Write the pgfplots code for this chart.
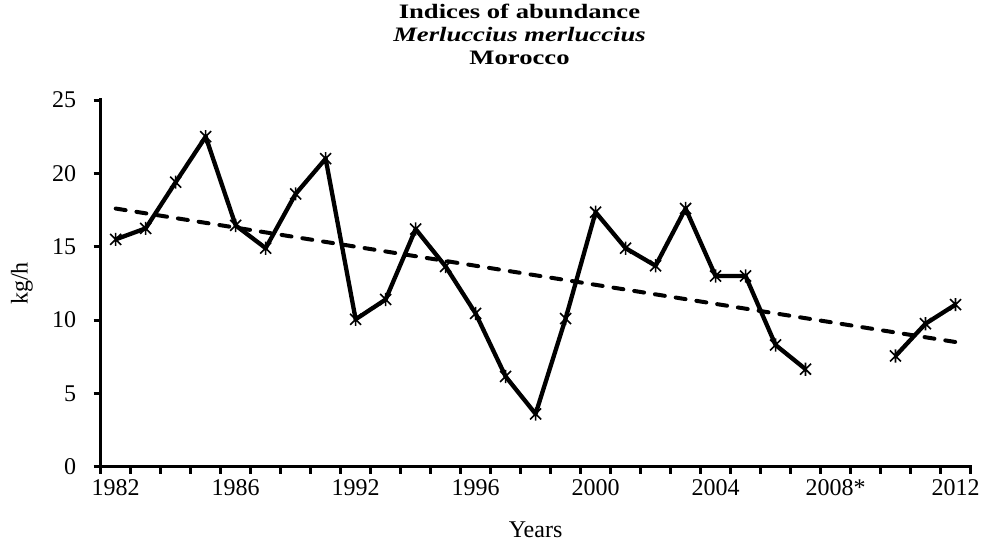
\documentclass[border=0pt]{standalone}
\usepackage{fontspec}
\setmainfont{Liberation Serif}
\newfontfamily\titlefont{Liberation Serif}[FakeStretch=1.3]
\usepackage{pgfplots}
\pgfplotsset{compat=1.18}
\pgfdeclareplotmark{xstar}{%
  \pgfpathmoveto{\pgfqpoint{-\pgfplotmarksize}{-\pgfplotmarksize}}%
  \pgfpathlineto{\pgfqpoint{\pgfplotmarksize}{\pgfplotmarksize}}%
  \pgfpathmoveto{\pgfqpoint{-\pgfplotmarksize}{\pgfplotmarksize}}%
  \pgfpathlineto{\pgfqpoint{\pgfplotmarksize}{-\pgfplotmarksize}}%
  \pgfpathmoveto{\pgfqpoint{0pt}{-1.2\pgfplotmarksize}}%
  \pgfpathlineto{\pgfqpoint{0pt}{1.2\pgfplotmarksize}}%
  \pgfusepathqstroke}
\begin{document}
\begin{tikzpicture}
\useasboundingbox (0,0) rectangle (982pt,-541pt);
\node[font=\titlefont\fontsize{20.5}{22.9}\selectfont\bfseries, anchor=base, inner sep=0pt, align=center] at (519.5pt,-18.5pt) {Indices of abundance};
\node[font=\titlefont\fontsize{20.5}{22.9}\selectfont\bfseries\itshape, anchor=base, inner sep=0pt, align=center] at (519.5pt,-41.4pt) {Merluccius merluccius};
\node[font=\titlefont\fontsize{20.5}{22.9}\selectfont\bfseries, anchor=base, inner sep=0pt, align=center] at (519.5pt,-64.3pt) {Morocco};
\begin{axis}[
  scale only axis,
  anchor=south west,
  at={(100.7pt,-466.7pt)},
  width=869.8pt, height=366.7pt,
  xmin=-0.5, xmax=28.5,
  ymin=0, ymax=25,
  axis x line*=bottom,
  axis y line*=left,
  axis line style={line width=3.2pt, line cap=rect},
  every tick/.style={black, line width=3pt},
  tick align=outside,
  xtick={0,4,...,28},
  xticklabels={1982,1986,1992,1996,2000,2004,2008*,2012},
  major x tick style={draw=none},
  minor xtick={-0.5,0.5,...,28.5},
  minor tick length=7pt,
  major tick length=7pt,
  ytick={0,5,...,25},
  tick label style={font=\fontsize{24}{28}\selectfont},
  yticklabel style={xshift=-14pt},
  xticklabel style={yshift=-2pt},
  /pgf/number format/assume math mode=true,
  xlabel={Years},
  ylabel={kg/h},
  label style={font=\fontsize{24}{28}\selectfont},
  xlabel style={at={(axis description cs:0.5,-0.1727)}, anchor=center},
  ylabel style={at={(axis description cs:-0.0905,0.5)}, anchor=center},
  unbounded coords=jump,
  clip=false,
]
\addplot[black, line width=4.3pt, line join=round, mark=xstar, mark size=5.5pt, mark options={line width=1.6pt, solid}] coordinates {
(0,15.5) (1,16.25) (2,19.4) (3,22.5) (4,16.45) (5,14.9) (6,18.6) (7,21.0)
(8,10.05) (9,11.4) (10,16.2) (11,13.65) (12,10.45) (13,6.15) (14,3.6)
(15,10.1) (16,17.35) (17,14.9) (18,13.7) (19,17.6) (20,13.0) (21,13.0)
(22,8.3) (23,6.65) (24,nan) (25,nan) (26,7.55) (27,9.75) (28,11.05)
};
\addplot[black, line width=4pt, dash pattern=on 10pt off 11pt, line cap=round] coordinates {
(0,17.6) (28,8.5)
};
\end{axis}
\end{tikzpicture}
\end{document}
